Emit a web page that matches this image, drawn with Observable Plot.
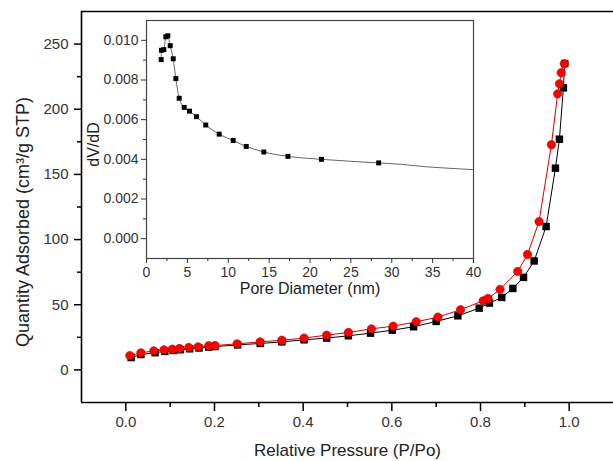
<!DOCTYPE html>
<html>
<head>
<meta charset="utf-8">
<script src="https://cdn.jsdelivr.net/npm/d3@7"></script>
<script src="https://cdn.jsdelivr.net/npm/@observablehq/plot@0.6"></script>
<style>
  body { margin: 0; background: white; }
  #chart { position: relative; width: 613px; height: 461px; }
  #chart svg { position: absolute; }
</style>
</head>
<body>
<div id="chart"></div>
<script>
// ---- Main isotherm: adsorption (black squares) ----
const pressureAds = [0.012, 0.034, 0.066, 0.088, 0.107, 0.123, 0.144, 0.165, 0.187, 0.201,
  0.252, 0.303, 0.352, 0.402, 0.453, 0.502, 0.552, 0.601, 0.649, 0.700, 0.749, 0.797, 0.820,
  0.848, 0.873, 0.897, 0.921, 0.948, 0.969, 0.978, 0.987, 0.990];
const quantityAds = [9.5, 11.8, 13.2, 14.2, 14.9, 15.5, 16.2, 16.8, 17.5, 17.9,
  19.2, 20.3, 21.5, 23.1, 24.4, 26.2, 28.2, 30.5, 33.1, 37.2, 41.5, 47.4, 51.3,
  55.6, 62.5, 71.0, 83.6, 110.0, 154.8, 177.0, 216.4, 235.0];

// ---- Main isotherm: desorption (red circles) ----
const pressureDes = [0.009, 0.034, 0.063, 0.086, 0.105, 0.121, 0.142, 0.163, 0.187, 0.201,
  0.251, 0.303, 0.352, 0.402, 0.453, 0.502, 0.554, 0.603, 0.655, 0.704, 0.755, 0.806, 0.817,
  0.844, 0.884, 0.906, 0.932, 0.960, 0.974, 0.978, 0.982, 0.989];
const quantityDes = [11.0, 13.1, 14.6, 15.4, 15.9, 16.4, 17.2, 17.7, 18.5, 18.7,
  20.0, 21.5, 22.8, 24.4, 26.7, 28.7, 31.5, 33.6, 36.9, 40.5, 46.2, 53.0, 54.8,
  61.8, 75.6, 88.5, 113.8, 172.8, 211.8, 219.5, 228.0, 235.0];

// ---- Inset: pore size distribution ----
const poreDiameter = [1.80, 1.83, 2.12, 2.36, 2.61, 2.90, 3.27, 3.59, 4.00, 4.61, 5.26, 6.12,
  7.25, 8.89, 10.6, 12.2, 14.35, 17.3, 21.4, 28.4];
const dVdD = [0.00903, 0.00950, 0.00953, 0.01018, 0.01023, 0.00973, 0.00907, 0.00807, 0.00708,
  0.00662, 0.00643, 0.00615, 0.00573, 0.00527, 0.00495, 0.00465, 0.00437, 0.00415, 0.00400, 0.00382];
// fitted curve continuation beyond the last measured point
const tailDiameter = [31.1, 34.3, 37.0, 40.0];
const tailDVdD = [0.00375, 0.00362, 0.00355, 0.00348];

// ---- Axes ----
const xDomain = [-0.1, 1.1];
const yDomain = [-25, 275];
const xTicks = [0, 0.2, 0.4, 0.6, 0.8, 1.0];
const xMinorTicks = [0.1, 0.3, 0.5, 0.7, 0.9];
const yTicks = [0, 50, 100, 150, 200, 250];
const yMinorTicks = [25, 75, 125, 175, 225];
const xLabel = "Relative Pressure (P/Po)";
const yLabel = "Quantity Adsorbed (cm\u00B3/g STP)";

const dDomain = [0, 40];
const vDomain = [-0.001, 0.011];
const dTicks = [0, 5, 10, 15, 20, 25, 30, 35, 40];
const dMinorTicks = [2.5, 7.5, 12.5, 17.5, 22.5, 27.5, 32.5, 37.5];
const vTicks = [0, 0.002, 0.004, 0.006, 0.008, 0.010];
const vMinorTicks = [0.001, 0.003, 0.005, 0.007, 0.009];
const dLabel = "Pore Diameter (nm)";
const vLabel = "dV/dD";

const ads = pressureAds.map((p, i) => ({p, q: quantityAds[i]}));
const des = pressureDes.map((p, i) => ({p, q: quantityDes[i]}));
const psd = poreDiameter.map((d, i) => ({d, v: dVdD[i]}));
const psdCurve = psd.concat(tailDiameter.map((d, i) => ({d, v: tailDVdD[i]})));

const font = "'Liberation Sans', Arial, sans-serif";

const main = Plot.plot({
  width: 613, height: 461,
  marginLeft: 81, marginRight: 0, marginTop: 11, marginBottom: 59,
  x: {domain: xDomain, label: null},
  y: {domain: yDomain, label: null},
  style: {fontFamily: font, background: "white", overflow: "visible"},
  marks: [
    Plot.ruleX([xDomain[0]], {stroke: "black", strokeWidth: 1.6}),
    Plot.ruleY([yDomain[0], yDomain[1]], {stroke: "black", strokeWidth: 1.6}),
    Plot.axisX(xTicks, {tickSize: 9, tickPadding: 5, tickFormat: d3.format(".1f"), fontSize: 15,
      fill: "#333", stroke: "black", strokeWidth: 1.5}),
    Plot.axisX(xMinorTicks, {tickSize: 5, tickFormat: () => "", stroke: "black", strokeWidth: 1.5}),
    Plot.axisY(yTicks, {tickSize: 7, tickPadding: 6, tickFormat: d3.format("d"), fontSize: 15,
      fill: "#333", stroke: "black", strokeWidth: 1.5}),
    Plot.axisY(yMinorTicks, {tickSize: 4, tickFormat: () => "", stroke: "black", strokeWidth: 1.5}),
    Plot.line(ads, {x: "p", y: "q", stroke: "black", strokeWidth: 1}),
    Plot.dot(ads, {x: "p", y: "q", symbol: "square", r: 4.2, fill: "black", stroke: "none"}),
    Plot.line(des, {x: "p", y: "q", stroke: "#d40000", strokeWidth: 1}),
    Plot.dot(des, {x: "p", y: "q", symbol: "circle", r: 4.2, fill: "#ff0000", stroke: "#c00000", strokeWidth: 0.6}),
    Plot.text([xLabel], {text: d => d, frameAnchor: "bottom", dy: 48, textAnchor: "middle", lineAnchor: "middle",
      fontSize: 17, fill: "#222"}),
    Plot.text([yLabel], {text: d => d, frameAnchor: "left", dx: -58, dy: 15, rotate: -90, textAnchor: "middle",
      lineAnchor: "middle", fontSize: 18, fill: "#222"})
  ]
});
main.style.left = "0px";
main.style.top = "0px";

const inset = Plot.plot({
  width: 397, height: 280,
  marginLeft: 65, marginRight: 5, marginTop: 2, marginBottom: 40,
  x: {domain: dDomain, label: null},
  y: {domain: vDomain, label: null},
  style: {fontFamily: font, background: "transparent", overflow: "visible"},
  marks: [
    Plot.frame({stroke: "#444", strokeWidth: 1.2}),
    Plot.axisX(dTicks, {tickSize: 5, tickPadding: 4, tickFormat: d3.format("d"), fontSize: 14,
      fill: "#333", stroke: "#333"}),
    Plot.axisX(dMinorTicks, {tickSize: 3, tickFormat: () => "", stroke: "#333"}),
    Plot.axisY(vTicks, {tickSize: 5, tickPadding: 3, tickFormat: d3.format(".3f"), fontSize: 14,
      fill: "#333", stroke: "#333"}),
    Plot.axisY(vMinorTicks, {tickSize: 3, tickFormat: () => "", stroke: "#333"}),
    Plot.line(psdCurve, {x: "d", y: "v", curve: "monotone-x", stroke: "#555", strokeWidth: 0.9}),
    Plot.dot(psd, {x: "d", y: "v", symbol: "square", r: 2.8, fill: "black", stroke: "none"}),
    Plot.text([dLabel], {text: d => d, frameAnchor: "bottom", dy: 30, textAnchor: "middle", lineAnchor: "middle",
      fontSize: 16, fill: "#222"}),
    Plot.text([vLabel], {text: d => d, frameAnchor: "left", dx: -53, dy: 5, rotate: -90, textAnchor: "middle",
      lineAnchor: "middle", fontSize: 16, fill: "#222"})
  ]
});
inset.style.left = "81px";
inset.style.top = "18px";

const chart = document.getElementById("chart");
chart.appendChild(main);
chart.appendChild(inset);
</script>
</body>
</html>
